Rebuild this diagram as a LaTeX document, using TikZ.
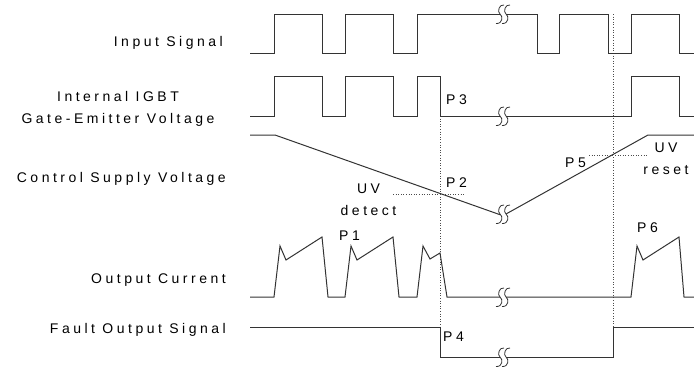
\documentclass[tikz,border=0pt]{standalone}
\usepackage{fontspec}
\setmainfont{Liberation Sans}[LetterSpace=25]
\begin{document}
\begin{tikzpicture}[x=1pt,y=-1pt,
  sig/.style={line width=1pt,draw=black!80,line join=miter},
  guide/.style={line width=0.6pt,draw=black!70,dotted},
  lab/.style={inner sep=0pt,font=\fontsize{14}{21.6}\selectfont,text=black},
  brk/.pic={
    \draw[sig,line width=0.8pt] (1,-9) .. controls (-4,-10) and (-6,-2) .. (-3,0) .. controls (0,2) and (0,10) .. (-7,9.5);
    \draw[sig,line width=0.8pt] (7,-9) .. controls (2,-10) and (0,-2) .. (3,0) .. controls (6,2) and (6,10) .. (-1,9.5);
  }]
\useasboundingbox (0,0) rectangle (694,367);
% labels
\node[lab,anchor=base east] (lin) at (223,46.7) {Input Signal};
\node[lab,anchor=base,align=center] (lgate) at (118,123.3) {Internal IGBT\\Gate-Emitter Voltage};
\node[lab,anchor=base east] (lsup) at (226,182.7) {Control Supply Voltage};
\node[lab,anchor=base east] (lout) at (226,283.3) {Output Current};
\node[lab,anchor=base east] (lflt) at (226,333) {Fault Output Signal};
% guides
\draw[guide] (440,116) -- (440,327);
\draw[guide] (613,14) -- (613,327);
\draw[guide] (393,194) -- (464,194);
\draw[guide] (589,155) -- (648,155);
% input signal
\draw[sig] (250,53)--(274,53)--(274,14)--(322,14)--(322,53)--(345,53)--(345,14)--(393,14)--(393,53)--(417,53)--(417,14)--(500,14);
\draw[sig] (506,14)--(537,14)--(537,53)--(559,53)--(559,14)--(608,14)--(608,53)--(631,53)--(631,14)--(679,14)--(679,53)--(694,53);
\pic at (503,14) {brk};
% gate
\draw[sig] (250,116)--(274,116)--(274,76)--(322,76)--(322,116)--(345,116)--(345,76)--(393,76)--(393,116)--(417,116)--(417,76)--(440,76)--(440,116)--(500,116);
\draw[sig] (506,116)--(631,116)--(631,76)--(679,76)--(679,116)--(694,116);
\pic at (503,116) {brk};
% supply
\draw[sig] (250,135)--(275,135)--(500,214.7);
\draw[sig] (506,214)--(648,135)--(694,135);
\pic at (503,214) {brk};
% output current
\draw[sig] (250,297)--(274,297)--(280,246)--(286,260)--(322,237)--(328,297)--(345,297)--(351,246)--(357,260)--(393,237)--(399,297)--(417,297)--(423,246)--(430,259)--(440,253)--(447,297)--(500,297);
\draw[sig] (506,297)--(631,297)--(637,246)--(643,260)--(679,237)--(684,297)--(694,297);
\pic at (503,297) {brk};
% fault
\draw[sig] (250,327)--(440,327)--(440,357)--(500,357);
\draw[sig] (506,357)--(613,357)--(613,327)--(694,327);
\pic at (503,357) {brk};
% point labels
\node[lab,anchor=base west] (p1) at (339,240) {P1};
\node[lab,anchor=base west] (p2) at (446,187.7) {P2};
\node[lab,anchor=base west] (p3) at (446,104) {P3};
\node[lab,anchor=base west] (p4) at (443,341.7) {P4};
\node[lab,anchor=base west] (p5) at (565,167.3) {P5};
\node[lab,anchor=base west] (p6) at (637,232.3) {P6};
\node[lab,anchor=base,align=center] (uvd) at (368.5,215) {UV\\detect};
\node[lab,anchor=base,align=center] (uvr) at (666,174) {UV\\reset};
\end{tikzpicture}
\end{document}
